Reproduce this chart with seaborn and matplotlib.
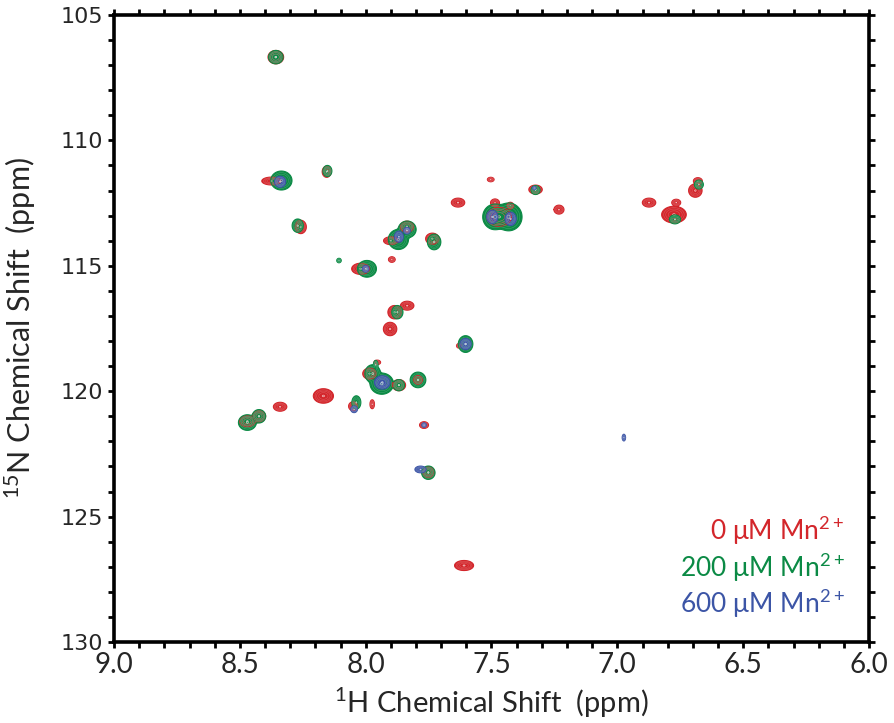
import numpy as np
import matplotlib
matplotlib.use("Agg")
import matplotlib.pyplot as plt
import seaborn as sns

# ---------------- data (peak lists) ----------------
# 0 uM Mn2+ (red)
red_H = [8.357, 8.375, 8.155, 8.258, 7.836, 7.900, 7.735, 7.896, 8.020, 7.503,
         7.325, 7.633, 7.486, 7.425, 7.470, 7.232, 6.874, 6.766, 6.775, 6.690,
         6.680, 7.835, 7.885, 7.903, 7.630, 7.954, 7.985, 7.868, 7.792, 8.168,
         8.050, 7.974, 8.340, 8.424, 8.470, 7.768, 7.751, 7.609]
red_N = [106.68, 111.62, 111.25, 113.45, 113.44, 114.00, 113.92, 114.75, 115.12, 111.56,
         111.96, 112.48, 112.49, 112.60, 113.05, 112.76, 112.48, 112.48, 112.96, 112.00,
         111.62, 116.59, 116.85, 117.52, 118.19, 118.85, 119.30, 119.76, 119.55, 120.19,
         120.60, 120.52, 120.62, 121.00, 121.20, 121.35, 123.23, 126.95]
red_wH = [0.028, 0.034, 0.016, 0.020, 0.024, 0.026, 0.024, 0.012, 0.032, 0.012,
          0.024, 0.024, 0.016, 0.012, 0.044, 0.018, 0.024, 0.016, 0.044, 0.024,
          0.016, 0.024, 0.024, 0.024, 0.008, 0.012, 0.024, 0.024, 0.016, 0.036,
          0.016, 0.008, 0.024, 0.024, 0.028, 0.016, 0.020, 0.034]
red_wN = [0.24, 0.14, 0.20, 0.24, 0.20, 0.14, 0.20, 0.10, 0.20, 0.08,
          0.16, 0.16, 0.14, 0.12, 0.34, 0.16, 0.16, 0.12, 0.30, 0.24,
          0.12, 0.16, 0.24, 0.24, 0.08, 0.08, 0.20, 0.20, 0.16, 0.26,
          0.16, 0.16, 0.16, 0.20, 0.20, 0.12, 0.20, 0.18]

# 200 uM Mn2+ (green)
green_H = [8.357, 8.335, 8.152, 8.270, 7.870, 7.835, 7.728, 8.106, 7.995, 7.325,
           7.486, 7.432, 6.771, 6.676, 7.874, 7.603, 7.936, 7.972, 7.960, 7.868,
           7.792, 8.037, 8.424, 8.470, 7.751]
green_N = [106.68, 111.60, 111.22, 113.40, 113.95, 113.55, 114.05, 114.79, 115.12, 111.98,
           113.05, 113.05, 113.15, 111.76, 116.85, 118.12, 119.70, 119.30, 118.95, 119.76,
           119.55, 120.45, 121.00, 121.25, 123.25]
green_wH = [0.026, 0.038, 0.016, 0.020, 0.036, 0.032, 0.024, 0.008, 0.034, 0.016,
            0.044, 0.048, 0.020, 0.016, 0.020, 0.026, 0.042, 0.028, 0.008, 0.020,
            0.028, 0.016, 0.024, 0.032, 0.024]
green_wN = [0.24, 0.34, 0.20, 0.24, 0.36, 0.30, 0.28, 0.08, 0.30, 0.16,
            0.46, 0.50, 0.16, 0.16, 0.24, 0.30, 0.38, 0.32, 0.16, 0.20,
            0.28, 0.24, 0.24, 0.28, 0.24]

# 600 uM Mn2+ (blue)
blue_H = [8.340, 7.868, 7.836, 8.000, 7.497, 7.424, 7.603, 7.934, 8.046, 7.768,
          7.782, 6.974, 7.330]
blue_N = [111.65, 113.84, 113.60, 115.12, 113.05, 113.13, 118.12, 119.65, 120.72, 121.35,
          123.12, 121.85, 111.90]
blue_wH = [0.020, 0.016, 0.012, 0.012, 0.020, 0.020, 0.020, 0.028, 0.012, 0.008,
           0.020, 0.006, 0.006]
blue_wN = [0.20, 0.20, 0.12, 0.12, 0.24, 0.24, 0.20, 0.24, 0.12, 0.08,
           0.12, 0.12, 0.06]

series_labels = ["0 \u03bcM Mn$^{2+}$", "200 \u03bcM Mn$^{2+}$", "600 \u03bcM Mn$^{2+}$"]
series_colors = ["#d3262b", "#0b8a45", "#3c55a6"]
x_ticks = [9.0, 8.5, 8.0, 7.5, 7.0, 6.5, 6.0]
y_ticks = [105, 110, 115, 120, 125, 130]

# ---------------- figure ----------------
sns.set_style("ticks")
plt.rcParams["font.family"] = ["Lato", "DejaVu Sans"]
plt.rcParams["mathtext.fontset"] = "custom"
plt.rcParams["mathtext.rm"] = "Lato"

fig = plt.figure(figsize=(8.95, 7.23), dpi=100)
ax = fig.add_axes([114 / 895, 1 - 642 / 723, 755 / 895, 627 / 723])

gx = np.arange(5.98, 9.02, 0.0012)
gy = np.arange(104.9, 130.1, 0.012)
amp = np.exp(4.5)


def spectrum(Hs, Ns, wHs, wNs):
    z = np.zeros((gy.size, gx.size))
    for h, n, wh, wn in zip(Hs, Ns, wHs, wNs):
        sh, sn = wh / 2.7, wn / 2.7
        ix = np.where(np.abs(gx - h) < 6 * sh)[0]
        iy = np.where(np.abs(gy - n) < 6 * sn)[0]
        ex = np.exp(-0.5 * ((gx[ix] - h) / sh) ** 2)
        ey = np.exp(-0.5 * ((gy[iy] - n) / sn) ** 2)
        z[iy[0]:iy[-1] + 1, ix[0]:ix[-1] + 1] += amp * np.outer(ey, ex)
    return z


def lighten(c, f):
    rgb = np.array(matplotlib.colors.to_rgb(c))
    return tuple(rgb + (1 - rgb) * f)


data = [(red_H, red_N, red_wH, red_wN),
        (green_H, green_N, green_wH, green_wN),
        (blue_H, blue_N, blue_wH, blue_wN)]
for (H, N, wH, wN), col in zip(data, series_colors):
    z = spectrum(H, N, wH, wN)
    ax.contourf(gx, gy, z, levels=[1.0, 1e9], colors=[col], antialiased=True)
    ax.contour(gx, gy, z, levels=[1.0], colors=[col], linewidths=0.8)
    ax.contour(gx, gy, z, levels=[4, 12, 35], colors=[lighten(col, 0.22)], linewidths=0.4)
    ax.contour(gx, gy, z, levels=[85], colors=[lighten(col, 0.7)], linewidths=0.5)

ax.set_xlim(9.0, 6.0)
ax.set_ylim(130, 105)
ax.set_xticks(x_ticks)
ax.set_xticklabels([f"{t:.1f}" for t in x_ticks])
ax.set_yticks(y_ticks)
ax.set_yticklabels([str(t) for t in y_ticks], family=["DejaVu Sans"], fontsize=16)
ax.set_xticks(np.arange(6.0, 9.001, 0.1), minor=True)
ax.set_yticks(np.arange(105, 130.1, 1), minor=True)
ax.tick_params(axis="x", which="major", labelsize=20, pad=3)
ax.tick_params(which="both", direction="out", length=4, width=2, color="black",
               top=True, right=True)
ax.tick_params(axis="y", which="major", pad=4)
for s in ax.spines.values():
    s.set_linewidth(2.6)
    s.set_color("black")
    s.set_visible(True)

ax.set_xlabel(r"$\mathregular{^{1}}$H Chemical Shift  (ppm)", fontsize=21)
ax.set_ylabel(r"$\mathregular{^{15}}$N Chemical Shift  (ppm)", fontsize=22)
ax.xaxis.set_label_coords(0.5, -0.07)
ax.yaxis.set_label_coords(-0.1, 0.5)

ys = [0.1786, 0.1196, 0.0622]
for lab, col, y in zip(series_labels, series_colors, ys):
    ax.text(0.968, y, lab, color=col, fontsize=19, ha="right", va="center",
            transform=ax.transAxes)

fig.savefig("out.png", dpi=100)
